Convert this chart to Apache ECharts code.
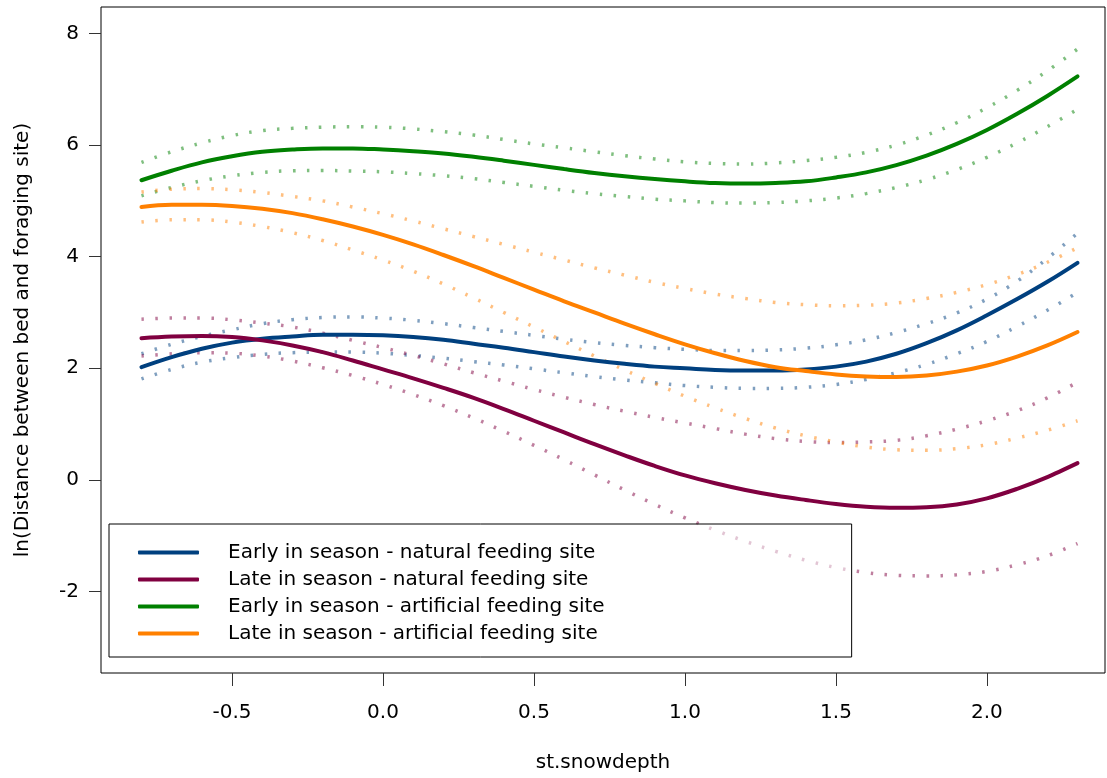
<!DOCTYPE html>
<html>
<head>
<meta charset="utf-8">
<script src="https://cdn.jsdelivr.net/npm/echarts@6/dist/echarts.min.js"></script>
<style>html,body{margin:0;padding:0;background:#fff}#c{width:1107px;height:778px}</style>
</head>
<body>
<div id="c"></div>
<script>
// x grid (st.snowdepth)
const xs = [-0.8,-0.7,-0.6,-0.5,-0.4,-0.3,-0.2,-0.1,0.0,0.1,0.2,0.3,0.4,0.5,0.6,0.7,0.8,0.9,1.0,1.1,1.2,1.3,1.4,1.5,1.6,1.7,1.8,1.9,2.0,2.1,2.2,2.3];

// Early in season - natural feeding site (blue)
const earlyNat    = [2.02,2.20,2.35,2.46,2.53,2.57,2.60,2.60,2.59,2.56,2.51,2.44,2.37,2.29,2.21,2.14,2.08,2.03,2.00,1.97,1.96,1.96,1.98,2.03,2.12,2.26,2.45,2.68,2.95,3.24,3.55,3.89];
const earlyNatHi  = [2.26,2.43,2.57,2.69,2.80,2.87,2.91,2.92,2.90,2.86,2.80,2.73,2.66,2.59,2.52,2.46,2.41,2.37,2.34,2.32,2.32,2.33,2.36,2.42,2.51,2.64,2.80,2.99,3.24,3.56,3.97,4.42];
const earlyNatLo  = [1.81,1.98,2.11,2.19,2.25,2.28,2.29,2.29,2.27,2.23,2.18,2.12,2.06,1.99,1.92,1.85,1.79,1.74,1.69,1.66,1.64,1.64,1.66,1.71,1.80,1.92,2.07,2.26,2.48,2.75,3.04,3.36];

// Late in season - natural feeding site (purple)
const lateNat     = [2.54,2.57,2.58,2.56,2.50,2.41,2.29,2.14,1.98,1.82,1.65,1.47,1.27,1.06,0.85,0.64,0.44,0.25,0.08,-0.06,-0.18,-0.28,-0.36,-0.43,-0.48,-0.50,-0.49,-0.44,-0.33,-0.16,0.05,0.30];
const lateNatHi   = [2.88,2.90,2.90,2.87,2.81,2.74,2.63,2.50,2.37,2.23,2.08,1.92,1.77,1.62,1.48,1.35,1.23,1.12,1.02,0.92,0.82,0.74,0.69,0.67,0.68,0.71,0.79,0.91,1.06,1.24,1.47,1.75];
const lateNatLo   = [2.22,2.26,2.28,2.27,2.22,2.13,2.01,1.87,1.71,1.53,1.33,1.11,0.87,0.62,0.36,0.09,-0.18,-0.44,-0.68,-0.90,-1.10,-1.28,-1.44,-1.57,-1.66,-1.71,-1.72,-1.70,-1.64,-1.52,-1.36,-1.14];

// Early in season - artificial feeding site (green)
const earlyArt    = [5.37,5.54,5.69,5.80,5.88,5.92,5.94,5.94,5.92,5.89,5.85,5.79,5.72,5.645,5.57,5.50,5.44,5.39,5.35,5.32,5.31,5.32,5.35,5.42,5.51,5.64,5.81,6.02,6.27,6.56,6.88,7.23];
const earlyArtHi  = [5.69,5.88,6.04,6.17,6.26,6.30,6.32,6.33,6.32,6.29,6.24,6.18,6.10,6.02,5.95,5.88,5.81,5.75,5.70,5.67,5.66,5.68,5.72,5.78,5.87,6.00,6.18,6.40,6.67,6.98,7.33,7.72];
const earlyArtLo  = [5.09,5.24,5.36,5.45,5.51,5.54,5.545,5.535,5.52,5.49,5.45,5.40,5.33,5.26,5.19,5.13,5.08,5.03,5.00,4.97,4.96,4.97,5.00,5.05,5.13,5.24,5.38,5.56,5.78,6.04,6.33,6.64];

// Late in season - artificial feeding site (orange)
const lateArt     = [4.89,4.93,4.93,4.91,4.86,4.78,4.67,4.54,4.39,4.22,4.03,3.83,3.62,3.41,3.20,3.00,2.80,2.61,2.43,2.27,2.13,2.02,1.95,1.89,1.855,1.845,1.87,1.94,2.05,2.21,2.41,2.65];
const lateArtHi   = [5.16,5.21,5.22,5.20,5.15,5.08,5.00,4.89,4.77,4.64,4.50,4.36,4.22,4.08,3.94,3.80,3.67,3.54,3.43,3.33,3.25,3.18,3.14,3.12,3.13,3.17,3.25,3.36,3.50,3.68,3.90,4.16];
const lateArtLo   = [4.62,4.66,4.66,4.62,4.54,4.43,4.29,4.12,3.94,3.74,3.51,3.26,3.00,2.74,2.48,2.22,1.97,1.73,1.50,1.29,1.10,0.93,0.79,0.68,0.59,0.54,0.53,0.56,0.63,0.75,0.89,1.06];

const xTicks = [-0.5, 0.0, 0.5, 1.0, 1.5, 2.0];
const yTicks = [-2, 0, 2, 4, 6, 8];

const names = [
  'Early in season - natural feeding site',
  'Late in season - natural feeding site',
  'Early in season - artificial feeding site',
  'Late in season - artificial feeding site'
];
const colors = ['#00407F', '#800040', '#008000', '#FF8000'];
const ciColors = ['rgba(0,64,127,0.5)', 'rgba(128,0,64,0.5)', 'rgba(0,128,0,0.5)', 'rgba(255,128,0,0.5)'];
const groups = [
  [earlyNat, earlyNatHi, earlyNatLo],
  [lateNat, lateNatHi, lateNatLo],
  [earlyArt, earlyArtHi, earlyArtLo],
  [lateArt, lateArtHi, lateArtLo]
];

const pair = arr => xs.map((x, i) => [x, arr[i]]);
const FONT = 'DejaVu Sans';

const series = [];
groups.forEach((g, k) => {
  [1, 2].forEach(j => {
    series.push({
      name: names[k] + (j === 1 ? ' upper' : ' lower'),
      type: 'line', data: pair(g[j]), smooth: 0.4, symbol: 'none', silent: true,
      lineStyle: { color: ciColors[k], width: 3.5, type: [2.5, 11.5], cap: 'butt' },
      z: 2
    });
  });
});
groups.forEach((g, k) => {
  series.push({
    name: names[k], type: 'line', data: pair(g[0]), smooth: 0.4, symbol: 'none',
    color: colors[k],
    lineStyle: { color: colors[k], width: 4, cap: 'round' },
    itemStyle: { color: colors[k] },
    z: 3
  });
});

const chart = echarts.init(document.getElementById('c'), null, { renderer: 'canvas' });
chart.setOption({
  animation: false,
  backgroundColor: '#ffffff',
  grid: { left: 101, top: 7, right: 2, bottom: 104, show: true, borderColor: '#000', borderWidth: 1, backgroundColor: 'transparent' },
  xAxis: {
    type: 'value', min: -0.934, max: 2.391,
    name: 'st.snowdepth', nameLocation: 'middle', nameGap: 80,
    nameTextStyle: { fontFamily: FONT, fontSize: 20, color: '#000' },
    axisLine: { show: false, onZero: false },
    splitLine: { show: false },
    axisTick: { show: true, inside: false, length: 13, customValues: xTicks, lineStyle: { color: '#333', width: 1 } },
    axisLabel: { customValues: xTicks, margin: 30, fontFamily: FONT, fontSize: 20, color: '#000',
      formatter: v => v.toFixed(1) }
  },
  yAxis: {
    type: 'value', min: -3.46, max: 8.474,
    name: 'ln(Distance between bed and foraging site)', nameLocation: 'middle', nameGap: 68, nameRotate: 90,
    nameTextStyle: { fontFamily: FONT, fontSize: 20, color: '#000' },
    axisLine: { show: false, onZero: false },
    splitLine: { show: false },
    axisTick: { show: true, inside: false, length: 12, customValues: yTicks, lineStyle: { color: '#333', width: 1 } },
    axisLabel: { customValues: yTicks, margin: 22, fontFamily: FONT, fontSize: 20, color: '#000',
      formatter: v => String(v) }
  },
  legend: {
    orient: 'vertical', left: 109, top: 524,
    data: names.map(n => ({ name: n, icon: 'roundRect' })),
    itemWidth: 61, itemHeight: 4, itemGap: 0,
    padding: [15, 247, 10, 29],
    backgroundColor: 'rgba(255,255,255,0.55)',
    borderColor: '#000', borderWidth: 1, borderRadius: 0,
    selectedMode: false,
    textStyle: { fontFamily: FONT, fontSize: 20, color: '#000', lineHeight: 27, padding: [0, 0, 0, 24] }
  },
  series: series
});
</script>
</body>
</html>
